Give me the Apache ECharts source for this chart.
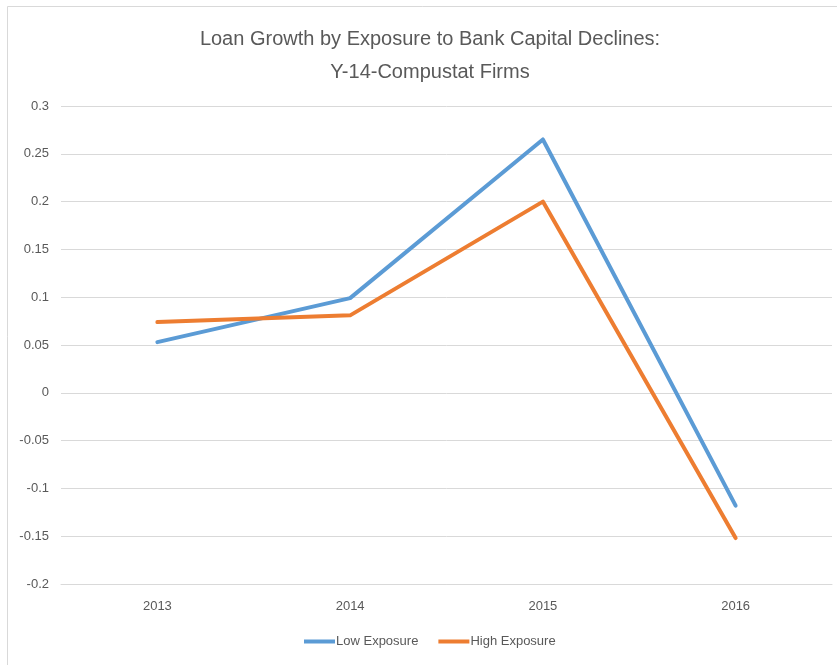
<!DOCTYPE html>
<html>
<head>
<meta charset="utf-8">
<script src="https://cdn.jsdelivr.net/npm/echarts@6/dist/echarts.min.js"></script>
<style>
html, body { margin: 0; padding: 0; background: #fff; }
#main { width: 837px; height: 665px; }
</style>
</head>
<body>
<div id="main"></div>
<script>
// chart data
var years = ['2013', '2014', '2015', '2016'];
var lowExposure = [0.053, 0.099, 0.265, -0.118];
var highExposure = [0.074, 0.081, 0.200, -0.152];
var yTicks = { min: -0.2, max: 0.3, step: 0.05 };

var font = '"Liberation Sans", sans-serif';
var textColor = '#595959';

var myChart = echarts.init(document.getElementById('main'));

myChart.setOption({
    backgroundColor: '#fff',
    animation: false,
    graphic: [{
        type: 'rect',
        shape: { x: 7.5, y: 6.5, width: 900, height: 700 },
        style: { fill: 'none', stroke: '#d9d9d9', lineWidth: 1 },
        silent: true
    }],
    title: {
        text: 'Loan Growth by Exposure to Bank Capital Declines:\nY-14-Compustat Firms',
        left: 430,
        top: 23,
        padding: 0,
        textAlign: 'center',
        textStyle: {
            fontFamily: font,
            fontSize: 20,
            fontWeight: 'normal',
            color: textColor,
            lineHeight: 33
        }
    },
    legend: {
        top: 635,
        left: 304,
        padding: 0,
        itemWidth: 31,
        itemHeight: 4,
        itemGap: 20,
        icon: 'rect',
        textStyle: { fontFamily: font, fontSize: 13, color: textColor, padding: [0, 0, 0, -4] },
        data: ['Low Exposure', 'High Exposure']
    },
    grid: {
        left: 61,
        top: 106,
        width: 771,
        height: 478,
        containLabel: false
    },
    xAxis: {
        type: 'category',
        data: years,
        boundaryGap: true,
        axisLine: { onZero: false, lineStyle: { color: '#d9d9d9', width: 1 } },
        axisTick: { show: false },
        axisLabel: { fontFamily: font, fontSize: 13, color: textColor, margin: 16 },
        splitLine: { show: false }
    },
    yAxis: {
        type: 'value',
        min: yTicks.min,
        max: yTicks.max,
        interval: yTicks.step,
        axisLine: { show: false },
        axisTick: { show: false },
        axisLabel: {
            fontFamily: font,
            fontSize: 13,
            color: textColor,
            margin: 12,
            formatter: function (v) { return String(Math.round(v * 100) / 100); }
        },
        splitLine: { lineStyle: { color: '#d9d9d9', width: 1 } }
    },
    series: [{
        name: 'Low Exposure',
        type: 'line',
        data: lowExposure,
        symbol: 'none',
        lineStyle: { color: '#5B9BD5', width: 4, cap: 'round', join: 'round' },
        itemStyle: { color: '#5B9BD5' }
    }, {
        name: 'High Exposure',
        type: 'line',
        data: highExposure,
        symbol: 'none',
        lineStyle: { color: '#ED7D31', width: 4, cap: 'round', join: 'round' },
        itemStyle: { color: '#ED7D31' }
    }]
});
</script>
</body>
</html>
